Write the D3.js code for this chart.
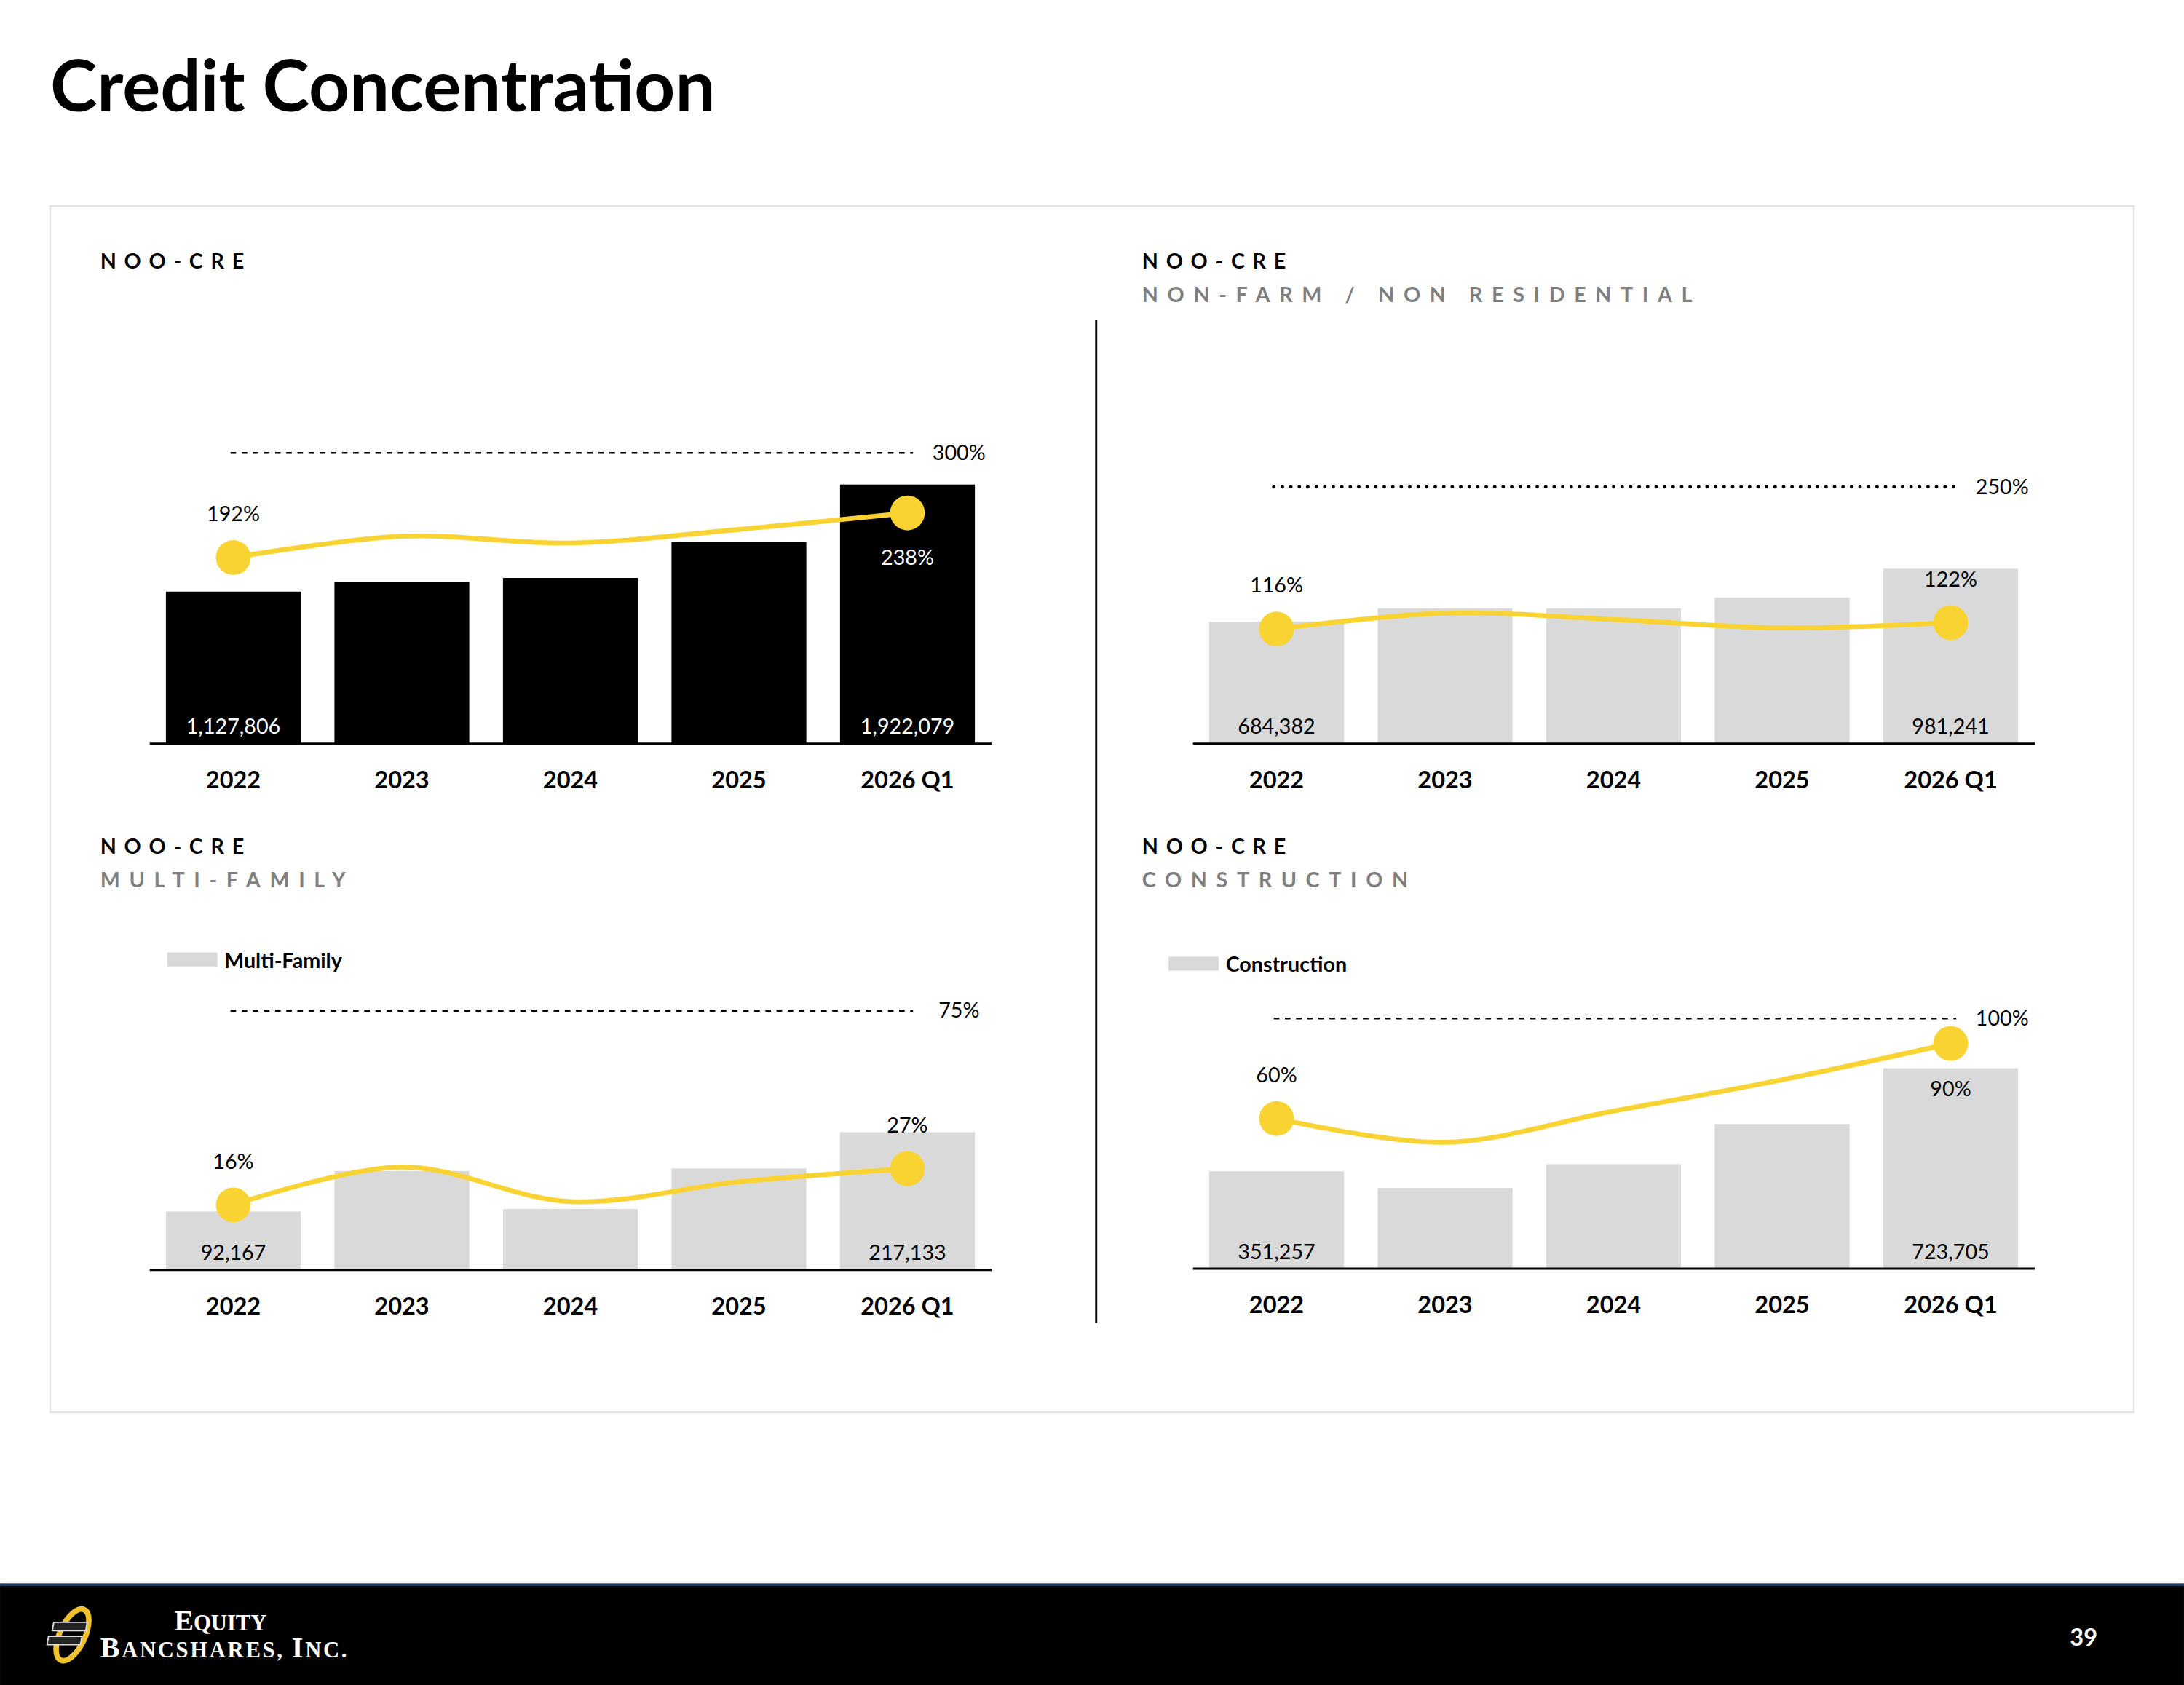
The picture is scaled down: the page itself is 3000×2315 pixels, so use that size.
<!DOCTYPE html>
<html>
<head>
<meta charset="utf-8">
<script src="https://cdn.jsdelivr.net/npm/d3@7"></script>
<style>
  body { margin: 0; background: #fff; }
  svg { display: block; font-family: Lato, "Open Sans", sans-serif; }
</style>
</head>
<body>
<div id="chart"></div>
<script>
// data
var years = ["2022", "2023", "2024", "2025", "2026 Q1"];

var creBalance = [1127806, 1198000, 1229000, 1498000, 1922079];
var crePct = [192, 214, 207, 221, 238];

var nonFarmBalance = [684382, 758000, 758000, 820000, 981241];
var nonFarmPct = [116, 131, 125, 117, 122];

var multiBalance = [92167, 156000, 96000, 160000, 217133];
var multiPct = [16, 27.5, 17, 23, 27];

var constrBalance = [351257, 291000, 377000, 522000, 723705];
var constrPct = [60, 50.5, 63, 75.5, 90];

var limits = [300, 250, 75, 100];

var svg = d3.select("#chart")
  .append("svg")
  .attr("width", 3000)
  .attr("height", 2315)
  .attr("viewBox", "0 0 1568 1210");

// title
svg.append("text")
  .attr("x", 36).attr("y", 80)
  .attr("font-size", 51).attr("font-weight", 700)
  .text("Credit Concentration");

// card
svg.append("rect")
  .attr("x", 36).attr("y", 148).attr("width", 1496).attr("height", 866)
  .attr("fill", "#fff").attr("stroke", "#e3e3e3").attr("stroke-width", 1.2);

svg.append("line")
  .attr("x1", 787).attr("x2", 787).attr("y1", 230).attr("y2", 950)
  .attr("stroke", "#000").attr("stroke-width", 1.5);

// footer
svg.append("rect").attr("x", 0).attr("y", 1138).attr("width", 1568).attr("height", 72).attr("fill", "#000");
svg.append("rect").attr("x", 0).attr("y", 1137).attr("width", 1568).attr("height", 2).attr("fill", "#1f3a5a");
svg.append("text").attr("x", 1496).attr("y", 1182).attr("text-anchor", "middle")
  .attr("fill", "#fff").attr("font-size", 17).attr("font-weight", 700).text("39");

// logo
var logo = svg.append("g").attr("transform", "translate(52,1174)");
logo.append("ellipse").attr("rx", 9).attr("ry", 20).attr("transform", "rotate(25)")
  .attr("fill", "none").attr("stroke", "#f2c12e").attr("stroke-width", 4);
logo.append("rect").attr("x", -15).attr("y", -9).attr("width", 24).attr("height", 6)
  .attr("fill", "#222").attr("stroke", "#ddd").attr("stroke-width", 1).attr("transform", "skewX(-10)");
logo.append("rect").attr("x", -17).attr("y", 1).attr("width", 24).attr("height", 6)
  .attr("fill", "#222").attr("stroke", "#ddd").attr("stroke-width", 1).attr("transform", "skewX(-10)");
var lt = svg.append("text").attr("fill", "#fff").attr("font-family", "'Liberation Serif', serif").attr("font-weight", 700);
lt.append("tspan").attr("x", 125).attr("y", 1171).attr("font-size", 21).text("E");
lt.append("tspan").attr("font-size", 16).text("QUITY");
var lt2 = svg.append("text").attr("fill", "#fff").attr("font-family", "'Liberation Serif', serif").attr("font-weight", 700)
  .attr("textLength", 177).attr("lengthAdjust", "spacing");
lt2.append("tspan").attr("x", 72).attr("y", 1190).attr("font-size", 21).text("B");
lt2.append("tspan").attr("font-size", 16).text("ANCSHARES, ");
lt2.append("tspan").attr("font-size", 21).text("I");
lt2.append("tspan").attr("font-size", 16).text("NC.");

function panel(opt) {
  var x = d3.scaleBand().domain(years).range([opt.x0, opt.x0 + 605]).paddingInner(0.2).paddingOuter(0.1);
  var yBar = d3.scaleLinear().domain([0, opt.barMax]).range([opt.base, opt.base - 300]);
  var yPct = d3.scaleLinear().domain([0, opt.pctMax]).range([opt.pctBase, opt.pctBase - 300]);
  var g = svg.append("g");

  g.append("text").attr("x", opt.tx).attr("y", opt.ty)
    .attr("font-size", 15).attr("font-weight", 700).attr("letter-spacing", 5.6)
    .text("NOO-CRE");
  if (opt.sub) {
    g.append("text").attr("x", opt.tx).attr("y", opt.ty + 24)
      .attr("font-size", 15).attr("font-weight", 700).attr("letter-spacing", 6.6)
      .attr("fill", "#7f7f7f").attr("xml:space", "preserve").text(opt.sub);
  }
  if (opt.legend) {
    g.append("rect").attr("x", opt.legend[0]).attr("y", opt.legend[1] - 11)
      .attr("width", 36).attr("height", 10).attr("fill", "#d9d9d9");
    g.append("text").attr("x", opt.legend[0] + 41).attr("y", opt.legend[1])
      .attr("font-size", 15).attr("font-weight", 700).text(opt.legendText);
  }

  g.selectAll(".bar").data(opt.bars).join("rect")
    .attr("x", function(d, i) { return x(years[i]); })
    .attr("width", x.bandwidth())
    .attr("y", function(d) { return yBar(d); })
    .attr("height", function(d) { return opt.base - yBar(d); })
    .attr("fill", opt.barColor);

  var axis = g.append("g").attr("transform", "translate(0," + opt.base + ")")
    .call(d3.axisBottom(x).tickSize(0).tickPadding(20).tickSizeOuter(0));
  axis.select(".domain").attr("stroke", "#000").attr("stroke-width", 1.5)
    .attr("d", "M" + (opt.x0 + 0.5) + ",0H" + (opt.x0 + 605));
  axis.selectAll("text").attr("font-size", 17).attr("font-weight", 700)
    .attr("font-family", "Lato, sans-serif").attr("fill", "#000");

  // value labels for first and last bars
  [0, 4].forEach(function(i) {
    g.append("text").attr("x", x(years[i]) + x.bandwidth() / 2).attr("y", opt.base - 7)
      .attr("text-anchor", "middle").attr("font-size", 15)
      .attr("fill", opt.valueColor).text(d3.format(",")(opt.bars[i]));
  });

  // limit line
  var cx = function(i) { return x(years[i]) + x.bandwidth() / 2; };
  var ly = yPct(opt.limit);
  g.append("line").attr("x1", cx(0) - 2).attr("x2", cx(4) + 4).attr("y1", ly).attr("y2", ly)
    .attr("stroke", "#000").attr("stroke-width", opt.roundDots ? 2.5 : 1.3)
    .attr("stroke-dasharray", opt.roundDots ? "0.1,6" : "4,4")
    .attr("stroke-linecap", opt.roundDots ? "round" : "butt");
  g.append("text").attr("x", cx(4) + 37).attr("y", ly + 5).attr("text-anchor", "middle")
    .attr("font-size", 15).text(opt.limit + "%");

  var line = d3.line().x(function(d, i) { return cx(i); }).y(function(d) { return yPct(d); })
    .curve(d3.curveCatmullRom.alpha(0.5));
  g.append("path").datum(opt.pct).attr("d", line).attr("fill", "none")
    .attr("stroke", "#f9d331").attr("stroke-width", 3.5);
  [0, 4].forEach(function(i) {
    g.append("circle").attr("cx", cx(i)).attr("cy", yPct(opt.pct[i])).attr("r", 12.5).attr("fill", "#f9d331");
  });
  g.append("text").attr("x", cx(0)).attr("y", yPct(opt.pct[0]) - 26).attr("text-anchor", "middle")
    .attr("font-size", 15).text(opt.pct[0] + "%");
  g.append("text").attr("x", cx(4)).attr("y", yPct(opt.pct[4]) + opt.lastDy).attr("text-anchor", "middle")
    .attr("font-size", 15).attr("fill", opt.lastColor).text(opt.pct[4] + "%");
}

panel({ x0: 107, base: 534, tx: 72, ty: 193, bars: creBalance, pct: crePct, limit: limits[0],
  barMax: 3099000, pctMax: 431, pctBase: 534, barColor: "#000", valueColor: "#fff",
  lastDy: 37, lastColor: "#fff" });
panel({ x0: 856, base: 534, tx: 820, ty: 193, sub: "NON-FARM / NON RESIDENTIAL", bars: nonFarmBalance,
  pct: nonFarmPct, limit: limits[1], barMax: 2344000, pctMax: 394, pctBase: 540, barColor: "#d9d9d9",
  valueColor: "#000", roundDots: true, lastDy: -26, lastColor: "#000" });
panel({ x0: 107, base: 912, tx: 72, ty: 613, sub: "MULTI-FAMILY", bars: multiBalance, pct: multiPct,
  limit: limits[2], barMax: 658000, pctMax: 127, pctBase: 903, barColor: "#d9d9d9", valueColor: "#000",
  legend: [120, 695], legendText: "Multi-Family", lastDy: -26, lastColor: "#000" });
panel({ x0: 856, base: 911, tx: 820, ty: 613, sub: "CONSTRUCTION", bars: constrBalance, pct: constrPct,
  limit: limits[3], barMax: 1508000, pctMax: 167, pctBase: 911, barColor: "#d9d9d9", valueColor: "#000",
  legend: [839, 698], legendText: "Construction", lastDy: 38, lastColor: "#000" });
</script>
</body>
</html>
